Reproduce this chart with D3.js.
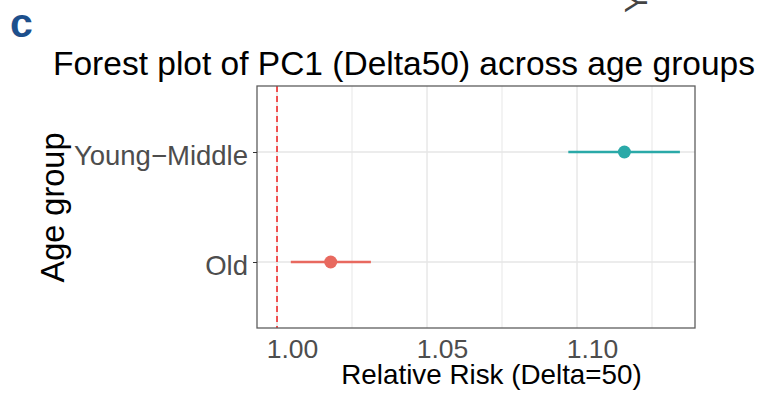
<!DOCTYPE html>
<html>
<head>
<meta charset="utf-8">
<script src="https://cdn.jsdelivr.net/npm/d3@7"></script>
<style>
  body { margin: 0; background: #fff; }
  svg { display: block; font-family: "Liberation Sans", Arial, Helvetica, sans-serif; }
</style>
</head>
<body>
<div id="chart"></div>
<script>
// data
const groups = ["Young\u2212Middle", "Old"];
const rr = [1.1158, 1.0179];
const lower = [1.0971, 1.0046];
const upper = [1.1343, 1.0313];
const groupColors = ["#2aa9a8", "#e8695f"];
const majorTicks = [1.00, 1.05, 1.10];
const minorTicks = [1.025, 1.075, 1.125];
const refLine = 1;

const W = 769, H = 395;
const panel = { left: 257, right: 695, top: 86, bottom: 328 };

const svg = d3.select("#chart").append("svg")
  .attr("width", W)
  .attr("height", H);

const x = d3.scaleLinear()
  .domain([0.99333, 1.13933])
  .range([panel.left, panel.right]);

const y = d3.scalePoint()
  .domain(groups)
  .range([panel.top, panel.bottom])
  .padding(0.6);

const rows = groups.map((g, i) => ({ g, rr: rr[i], lo: lower[i], hi: upper[i], color: groupColors[i] }));

// grid
const grid = svg.append("g");
grid.selectAll(".vminor").data(minorTicks).enter().append("line")
  .attr("x1", d => x(d)).attr("x2", d => x(d))
  .attr("y1", panel.top).attr("y2", panel.bottom)
  .attr("stroke", "#ebebeb").attr("stroke-width", 1.2);
grid.selectAll(".vmajor").data(majorTicks).enter().append("line")
  .attr("x1", d => x(d)).attr("x2", d => x(d))
  .attr("y1", panel.top).attr("y2", panel.bottom)
  .attr("stroke", "#e6e6e6").attr("stroke-width", 1.4);
grid.selectAll(".hmajor").data(groups).enter().append("line")
  .attr("x1", panel.left).attr("x2", panel.right)
  .attr("y1", d => y(d)).attr("y2", d => y(d))
  .attr("stroke", "#e6e6e6").attr("stroke-width", 1.4);

// reference line at RR = 1
svg.append("line")
  .attr("x1", x(refLine)).attr("x2", x(refLine))
  .attr("y1", panel.top).attr("y2", panel.bottom)
  .attr("stroke", "#f01e1e").attr("stroke-width", 1.5)
  .attr("stroke-dasharray", "6,4");

// confidence intervals
svg.selectAll(".ci").data(rows).enter().append("line")
  .attr("x1", d => x(d.lo)).attr("x2", d => x(d.hi))
  .attr("y1", d => y(d.g)).attr("y2", d => y(d.g))
  .attr("stroke", d => d.color).attr("stroke-width", 2.3);

// point estimates
svg.selectAll(".pt").data(rows).enter().append("circle")
  .attr("cx", d => x(d.rr)).attr("cy", d => y(d.g))
  .attr("r", 6.5)
  .attr("fill", d => d.color);

// panel border
svg.append("rect")
  .attr("x", panel.left).attr("y", panel.top)
  .attr("width", panel.right - panel.left)
  .attr("height", panel.bottom - panel.top)
  .attr("fill", "none").attr("stroke", "#5e5e5e").attr("stroke-width", 1.3);

// x axis (labels only, sit a bit right of their gridlines in the reference)
const xAxis = svg.append("g")
  .attr("transform", `translate(0,${panel.bottom})`)
  .call(d3.axisBottom(x).tickValues(majorTicks).tickFormat(d3.format(".2f")).tickSize(0).tickPadding(0));
xAxis.select(".domain").remove();
xAxis.selectAll("text")
  .attr("dx", 15).attr("y", 30).attr("dy", 0)
  .attr("fill", "#4d4d4d")
  .style("font-size", "26.5px")
  .style("font-family", "'Liberation Sans', Arial, sans-serif");

// y axis
const yAxis = svg.append("g")
  .attr("transform", `translate(${panel.left},0)`)
  .call(d3.axisLeft(y).tickSize(4).tickPadding(5));
yAxis.select(".domain").remove();
yAxis.selectAll("line").attr("stroke", "#333").attr("stroke-width", 1);
yAxis.selectAll("text")
  .attr("dy", 5)
  .attr("dominant-baseline", "middle")
  .attr("fill", "#4d4d4d")
  .style("font-size", "27.5px")
  .style("font-family", "'Liberation Sans', Arial, sans-serif");

// titles
svg.append("text")
  .attr("x", 53).attr("y", 75)
  .attr("font-size", 33.5)
  .attr("fill", "#000")
  .text("Forest plot of PC1 (Delta50) across age groups");

svg.append("text")
  .attr("x", 491.5).attr("y", 384)
  .attr("text-anchor", "middle")
  .attr("font-size", 27.8)
  .attr("fill", "#000")
  .text("Relative Risk (Delta=50)");

svg.append("text")
  .attr("transform", "translate(63.5,207.5) rotate(-90)")
  .attr("text-anchor", "middle")
  .attr("font-size", 32.5)
  .attr("fill", "#000")
  .text("Age group");

// panel tag
svg.append("text")
  .attr("x", 10).attr("y", 37)
  .attr("font-size", 41)
  .attr("font-weight", "bold")
  .attr("fill", "#1d4f8c")
  .text("c");

// fragment of neighbouring panel's rotated label, cut by the top edge
svg.append("text")
  .attr("transform", "translate(647,13) rotate(-90)")
  .attr("font-size", 31)
  .attr("fill", "#444")
  .text("Y");
</script>
</body>
</html>
